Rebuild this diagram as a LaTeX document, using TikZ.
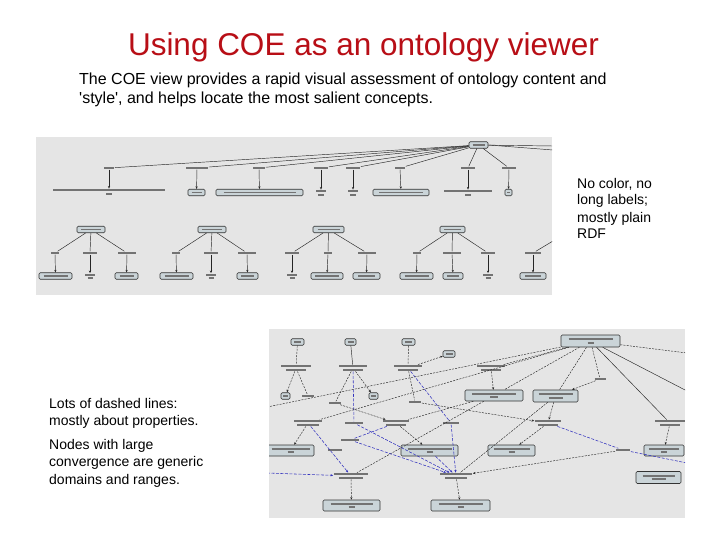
\documentclass[tikz,border=0pt]{standalone}
\usepackage{fontspec}
\setmainfont{Liberation Sans}
\usetikzlibrary{arrows.meta, positioning}
\definecolor{slideRed}{RGB}{184,14,22}
\definecolor{shotGray}{RGB}{229,229,229}
\definecolor{boxFill}{RGB}{202,212,216}
\definecolor{linkBlue}{RGB}{50,50,190}
\newcommand{\blur}[1]{\textcolor{black!55}{\rule{#1}{1.8pt}}}

\tikzset{
  shot/.style={fill=shotGray},
  cbox/.style={draw=black!80, fill=boxFill, rounded corners=1.2pt, line width=0.6pt,
    minimum height=6.5pt, inner sep=0pt, align=center, font=\fontsize{2.6}{3.4}\selectfont},
  tlabel/.style={inner sep=0.6pt, align=center, font=\fontsize{2.6}{3.4}\selectfont},
  link/.style={draw=black!85, line width=0.45pt},
  dlink/.style={link, dash pattern=on 2pt off 1.2pt},
  blink/.style={draw=linkBlue, line width=0.55pt, dash pattern=on 3pt off 1.5pt},
  >={Stealth[length=2.6pt,width=2.2pt]}
}

\begin{document}
\begin{tikzpicture}[x=1pt, y=-1pt]
  \useasboundingbox (0,0) rectangle (720,540);
  \fill[white] (0,0) rectangle (720,540);

  % title and texts
  \node[anchor=base, inner sep=0pt, font=\fontsize{31.5}{36}\selectfont, text=slideRed] (title) at (363.5,56)
    {Using COE as an ontology viewer};
  \node[anchor=base west, inner sep=0pt, align=left, font=\fontsize{16}{19}\selectfont] (intro) at (79,104)
    {The COE view provides a rapid visual assessment of ontology content and\\
     \textquotesingle style\textquotesingle, and helps locate the most salient concepts.};
  \node[anchor=base west, inner sep=0pt, align=left, font=\fontsize{14}{17}\selectfont] (notea) at (577,239)
    {No color, no\\long labels;\\mostly plain\\RDF};
  \node[anchor=base west, inner sep=0pt, align=left, font=\fontsize{14}{17}\selectfont] (noteb) at (49,425)
    {Lots of dashed lines:\\mostly about properties.};
  \node[anchor=base west, inner sep=0pt, align=left, font=\fontsize{14}{17.2}\selectfont] (notec) at (49,484)
    {Nodes with large\\convergence are generic\\domains and ranges.};

  % first screenshot: plain RDF tree
  \fill[shot] (36,137) rectangle (552,295);
  \begin{scope}
    \clip (36,137) rectangle (552,295);
    \node[cbox, minimum width=19pt] (root) at (478.5,145) {\blur{12pt}};
    \node[tlabel] (l1) at (109,168) {\blur{10pt}};
    \node[tlabel] (l2) at (197,168) {\blur{22pt}};
    \node[tlabel] (l3) at (259,168) {\blur{12pt}};
    \node[tlabel] (l4) at (321,168) {\blur{14pt}};
    \node[tlabel] (l5) at (353,168) {\blur{14pt}};
    \node[tlabel] (l6) at (400,168) {\blur{10pt}};
    \node[tlabel] (l7) at (468,168) {\blur{14pt}};
    \node[tlabel] (l8) at (509,168) {\blur{14pt}};
    \node[tlabel] (v1) at (109,192) {\blur{112pt}\\\blur{6pt}};
    \node[cbox, minimum width=17pt] (v2) at (196.5,192.5) {\blur{10pt}};
    \node[cbox, minimum width=87pt] (v3) at (259.5,192.5) {\blur{72pt}};
    \node[tlabel] (v4) at (321,193) {\blur{10pt}\\\blur{6pt}};
    \node[tlabel] (v5) at (353,193) {\blur{10pt}\\\blur{6pt}};
    \node[cbox, minimum width=56pt] (v6) at (401,192.5) {\blur{44pt}};
    \node[tlabel] (v7) at (468,193) {\blur{48pt}\\\blur{6pt}};
    \node[cbox, minimum width=7pt] (v8) at (508.5,192.5) {\blur{3pt}};
    \coordinate (e1) at (553,146);
    \coordinate (e2) at (553,150);
    \foreach \l in {l1,l2,l3,l4,l5,l6,l7,l8}
      \draw[link] (root) -- (\l);
    \draw[link] (root) -- (e1);
    \draw[link] (root.east) -- (e2);
    \foreach \l/\v in {l1/v1,l2/v2,l3/v3,l4/v4,l5/v5,l6/v6,l7/v7,l8/v8}
      \draw[link, ->] (\l) -- (\v);

    % lower trees
    \node[cbox, minimum width=28pt] (p1) at (91,229.5) {\blur{20pt}};
    \node[cbox, minimum width=28pt] (p2) at (212,229.5) {\blur{20pt}};
    \node[cbox, minimum width=31pt] (p3) at (328.5,229.5) {\blur{22pt}};
    \node[cbox, minimum width=25pt] (p4) at (452.5,229.5) {\blur{17pt}};
    \coordinate (p5) at (553,241);
    \node[tlabel] (a1) at (55,253) {\blur{8pt}};
    \node[tlabel] (b1) at (90,253) {\blur{14pt}};
    \node[tlabel] (c1) at (127,253) {\blur{18pt}};
    \node[tlabel] (a2) at (176,253) {\blur{8pt}};
    \node[tlabel] (b2) at (211,253) {\blur{14pt}};
    \node[tlabel] (c2) at (247,253) {\blur{18pt}};
    \node[tlabel] (a3) at (292,253) {\blur{14pt}};
    \node[tlabel] (b3) at (328,253) {\blur{8pt}};
    \node[tlabel] (c3) at (367,253) {\blur{18pt}};
    \node[tlabel] (a4) at (417,253) {\blur{8pt}};
    \node[tlabel] (b4) at (452,253) {\blur{18pt}};
    \node[tlabel] (c4) at (488,253) {\blur{14pt}};
    \node[tlabel] (a5) at (533,253) {\blur{16pt}};
    \node[cbox, minimum width=33pt] (x1) at (55.5,276) {\blur{24pt}};
    \node[tlabel] (y1) at (90,276.5) {\blur{10pt}\\\blur{5pt}};
    \node[cbox, minimum width=23pt] (z1) at (126.5,276) {\blur{14pt}};
    \node[cbox, minimum width=33pt] (x2) at (176.5,276) {\blur{24pt}};
    \node[tlabel] (y2) at (211,276.5) {\blur{10pt}\\\blur{5pt}};
    \node[cbox, minimum width=21pt] (z2) at (247.5,276) {\blur{13pt}};
    \node[tlabel] (x3) at (292,276.5) {\blur{10pt}\\\blur{5pt}};
    \node[cbox, minimum width=32pt] (y3) at (327,276) {\blur{24pt}};
    \node[cbox, minimum width=27pt] (z3) at (366.5,276) {\blur{17pt}};
    \node[cbox, minimum width=33pt] (x4) at (416.5,276) {\blur{24pt}};
    \node[cbox, minimum width=20pt] (y4) at (453,276) {\blur{12pt}};
    \node[tlabel] (z4) at (488,276.5) {\blur{10pt}\\\blur{5pt}};
    \node[cbox, minimum width=26pt] (x5) at (533,276) {\blur{16pt}};
    \foreach \p/\a/\b/\c in {p1/a1/b1/c1,p2/a2/b2/c2,p3/a3/b3/c3,p4/a4/b4/c4} {
      \draw[link] (\p) -- (\a);
      \draw[link] (\p) -- (\b);
      \draw[link] (\p) -- (\c);
    }
    \draw[link] (p5) -- (a5);
    \foreach \l/\v in {a1/x1,b1/y1,c1/z1,a2/x2,b2/y2,c2/z2,a3/x3,b3/y3,c3/z3,
                       a4/x4,b4/y4,c4/z4,a5/x5}
      \draw[link, ->] (\l) -- (\v);
  \end{scope}

  % second screenshot: classes and properties
  \fill[shot] (269,329) rectangle (685,518);
  \begin{scope}
    \clip (269,329) rectangle (685,518);
    \node[cbox, minimum width=13pt] (q1) at (297.5,342) {\blur{7pt}};
    \node[cbox, minimum width=11pt] (q2) at (350.5,342) {\blur{6pt}};
    \node[cbox, minimum width=13pt] (q3) at (408.5,342) {\blur{7pt}};
    \node[cbox, minimum width=12pt] (q4) at (449,354) {\blur{7pt}};
    \node[cbox, minimum width=59pt, minimum height=12pt] (cls) at (590.5,341) {\blur{44pt}\\\blur{6pt}};
    \node[tlabel] (t1) at (296,368) {\blur{30pt}\\\blur{20pt}};
    \node[tlabel] (t2) at (353,368) {\blur{28pt}\\\blur{20pt}};
    \node[tlabel] (t3) at (408,368) {\blur{28pt}\\\blur{20pt}};
    \node[tlabel] (t4) at (491,368) {\blur{28pt}\\\blur{20pt}};
    \node[cbox, minimum width=9pt] (s1) at (285.5,396) {\blur{5pt}};
    \node[cbox, minimum width=9pt] (s2) at (373.5,396) {\blur{5pt}};
    \node[tlabel] (subj) at (308,396) {\blur{12pt}};
    \node[cbox, minimum width=58pt, minimum height=11pt] (k1) at (494,395.5) {\blur{44pt}\\\blur{8pt}};
    \node[cbox, minimum width=45pt, minimum height=12pt] (k2) at (555.5,396) {\blur{34pt}\\\blur{14pt}};
    \node[tlabel] (d1) at (335,403) {\blur{12pt}};
    \node[tlabel] (d2) at (415,402) {\blur{12pt}};
    \node[tlabel] (used) at (600,379) {\blur{11pt}};
    \node[tlabel] (t5) at (308,423) {\blur{28pt}\\\blur{22pt}};
    \node[tlabel] (sp1) at (354,423) {\blur{18pt}};
    \node[tlabel] (t6) at (396,423) {\blur{26pt}\\\blur{20pt}};
    \node[tlabel] (sc1) at (451,423) {\blur{16pt}};
    \node[tlabel] (t7) at (548,423) {\blur{26pt}\\\blur{20pt}};
    \node[tlabel] (t8) at (670,423) {\blur{30pt}\\\blur{20pt}};
    \node[tlabel] (sp2) at (350,440) {\blur{18pt}};
    \node[tlabel] (sc2) at (335,450) {\blur{14pt}};
    \node[tlabel] (sc3) at (623,450) {\blur{14pt}};
    \node[cbox, minimum width=47pt, minimum height=11pt] (r1) at (290.5,450.5) {\blur{38pt}\\\blur{6pt}};
    \node[cbox, minimum width=57pt, minimum height=11pt] (r2) at (429.5,450.5) {\blur{44pt}\\\blur{6pt}};
    \node[cbox, minimum width=47pt, minimum height=11pt] (r3) at (511.5,450.5) {\blur{36pt}\\\blur{6pt}};
    \node[cbox, minimum width=40pt, minimum height=11pt] (r4) at (664,450.5) {\blur{30pt}\\\blur{6pt}};
    \node[cbox, minimum width=45pt, minimum height=12pt] (r5) at (658.5,477.5) {\blur{32pt}\\\blur{14pt}};
    \node[tlabel] (m1) at (351,476) {\blur{34pt}\\\blur{24pt}};
    \node[tlabel] (m2) at (456,476) {\blur{32pt}\\\blur{22pt}};
    \node[cbox, minimum width=57pt, minimum height=11pt] (bt1) at (351.5,505.5) {\blur{42pt}\\\blur{6pt}};
    \node[cbox, minimum width=59pt, minimum height=11pt] (bt2) at (460.5,505.5) {\blur{44pt}\\\blur{6pt}};
    \coordinate (w1) at (267,407);
    \coordinate (w2) at (267,473);
    \coordinate (e3) at (687,353);
    \coordinate (e4) at (687,391);
    \coordinate (e5) at (687,463);

    \draw[dlink] (q1) -- (t1);
    \draw[dlink, ->] (t1) -- (s1);
    \draw[dlink] (t1) -- (subj);
    \draw[link] (q2) -- (t2);
    \draw[dlink, ->] (t2) -- (s2);
    \draw[dlink] (t2) -- (d1);
    \draw[blink] (t2) -- (sp1);
    \draw[dlink] (q3) -- (t3);
    \draw[dlink, ->] (t3) -- (q4);
    \draw[dlink] (t3) -- (d2);
    \draw[blink] (t3) -- (sc1);
    \draw[dlink] (w1) -- (cls);
    \draw[dlink, ->] (d1) -- (t6);
    \draw[dlink, ->] (d2) -- (t7);
    \draw[dlink] (cls) -- (t4);
    \draw[dlink] (cls) -- (k1);
    \draw[dlink] (cls) -- (k2);
    \draw[dlink] (cls) -- (used);
    \draw[dlink, ->] (used) -- (k2);
    \draw[link] (cls) -- (t8);
    \draw[link] (cls) -- (e4);
    \draw[dlink] (cls) -- (e3);
    \draw[dlink] (cls) -- (t5);
    \draw[dlink, ->] (t4) -- (k1);
    \draw[dlink, ->] (t5) -- (r1);
    \draw[dlink] (k1) -- (t6);
    \draw[dlink, ->] (t6) -- (r2);
    \draw[dlink, ->] (k2) -- (t7);
    \draw[dlink, ->] (t7) -- (r3);
    \draw[dlink, ->] (t8) -- (r4);
    \draw[dlink] (k1) -- (m1);
    \draw[dlink] (k2) -- (m2);
    \draw[dlink, ->] (sc3) -- (m2);
    \draw[blink] (t6) -- (sp2);
    \draw[blink] (t7) -- (sc3);
    \draw[blink] (sc3) -- (e5);
    \draw[blink, ->] (t5) -- (m1);
    \draw[blink, ->] (w2) -- (m1);
    \draw[blink, ->] (sp1) -- (m2);
    \draw[blink, ->] (sp2) -- (m2);
    \draw[blink, ->] (sc1) -- (m2);
    \draw[blink, ->] (r2) -- (m2);
    \draw[dlink, ->] (m1) -- (bt1);
    \draw[dlink, ->] (m2) -- (bt2);
  \end{scope}
\end{tikzpicture}
\end{document}
